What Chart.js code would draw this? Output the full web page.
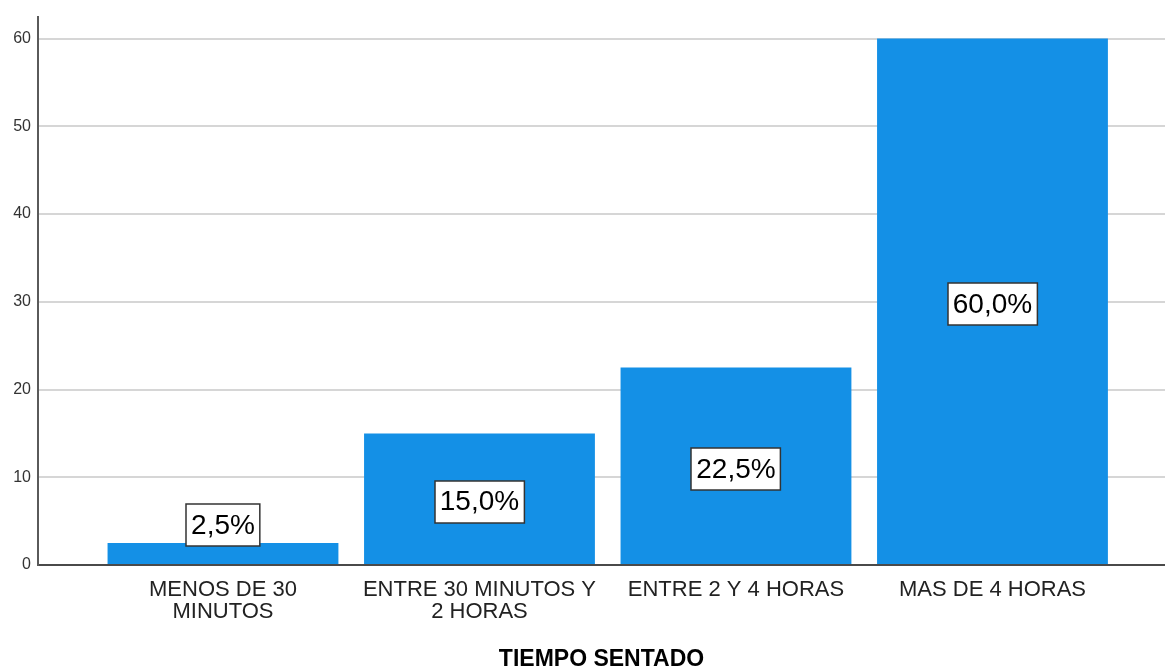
<!DOCTYPE html>
<html>
<head>
<meta charset="utf-8">
<script src="https://cdn.jsdelivr.net/npm/chart.js@4/dist/chart.umd.min.js"></script>
<style>
  body { margin: 0; background: #fff; }
  canvas { display: block; }
</style>
</head>
<body>
<canvas id="grafico" width="1165" height="668"></canvas>
<script>
// Categorías del eje X y porcentajes de cada barra
const categorias = [
    ['MENOS DE 30', 'MINUTOS'],
    ['ENTRE 30 MINUTOS Y', '2 HORAS'],
    ['ENTRE 2 Y 4 HORAS'],
    ['MAS DE 4 HORAS']
];
const porcentajes = [2.5, 15.0, 22.5, 60.0];
const ticksY = [0, 10, 20, 30, 40, 50, 60];
const tituloX = 'TIEMPO SENTADO';

const FUENTE = '"Liberation Sans", Arial, sans-serif';

// etiqueta blanca con borde oscuro dentro (o encima) de cada barra
const etiquetasBarras = {
    id: 'etiquetasBarras',
    afterDatasetsDraw(chart) {
        const ctx = chart.ctx;
        const meta = chart.getDatasetMeta(0);
        ctx.save();
        ctx.font = '28px ' + FUENTE;
        ctx.textAlign = 'center';
        ctx.textBaseline = 'middle';
        meta.data.forEach((bar, i) => {
            const texto = porcentajes[i].toFixed(1).replace('.', ',') + '%';
            const w = ctx.measureText(texto).width + 10;
            const h = 42;
            let cy = (bar.y + bar.base) / 2 + 3;
            if (cy + h / 2 > bar.base) cy = bar.y + 3 - h / 2; // no cabe: va encima
            const x0 = Math.round(bar.x - w / 2);
            const y0 = Math.round(cy - h / 2);
            ctx.fillStyle = '#ffffff';
            ctx.fillRect(x0, y0, w, h);
            ctx.strokeStyle = '#333333';
            ctx.lineWidth = 1.5;
            ctx.strokeRect(x0, y0, w, h);
            ctx.fillStyle = '#000000';
            ctx.fillText(texto, bar.x, cy + 1);
        });
        ctx.restore();
    }
};

const ctx = document.getElementById('grafico').getContext('2d');
new Chart(ctx, {
    type: 'bar',
    data: {
        datasets: [{
            data: porcentajes.map((v, i) => ({ x: i, y: v })),
            backgroundColor: '#1490e6',
            borderWidth: 0,
            categoryPercentage: 1,
            barPercentage: 0.9
        }]
    },
    options: {
        responsive: false,
        animation: false,
        devicePixelRatio: 1,
        layout: { padding: { top: 15, right: 0, bottom: 0, left: 0 } },
        plugins: {
            legend: { display: false },
            tooltip: { enabled: false }
        },
        scales: {
            x: {
                type: 'linear',
                offset: false,
                min: -0.7212,
                max: 3.6726,
                afterBuildTicks: scale => {
                    scale.ticks = categorias.map((c, i) => ({ value: i }));
                },
                afterFit: scale => { scale.height = 103; },
                grid: { display: false, drawTicks: false },
                border: { display: true, color: '#4a4a4a', width: 2 },
                ticks: {
                    autoSkip: false,
                    maxRotation: 0,
                    padding: 14,
                    color: '#222222',
                    font: { family: FUENTE, size: 22, lineHeight: 1 },
                    callback: v => categorias[v]
                },
                title: {
                    display: true,
                    text: tituloX,
                    color: '#000000',
                    font: { family: FUENTE, size: 23, weight: 'bold', lineHeight: 1 },
                    padding: { top: 0, bottom: -3 }
                }
            },
            y: {
                min: 0,
                max: 62.5,
                afterBuildTicks: scale => {
                    scale.ticks = ticksY.map(v => ({ value: v }));
                },
                afterFit: scale => { scale.width = 38; },
                grid: { color: '#d6d6d6', lineWidth: 2, drawTicks: false },
                border: { display: true, color: '#5a5a5a', width: 2 },
                ticks: {
                    padding: 7,
                    color: '#333333',
                    font: { family: FUENTE, size: 16 }
                }
            }
        }
    },
    plugins: [etiquetasBarras]
});
</script>
</body>
</html>
